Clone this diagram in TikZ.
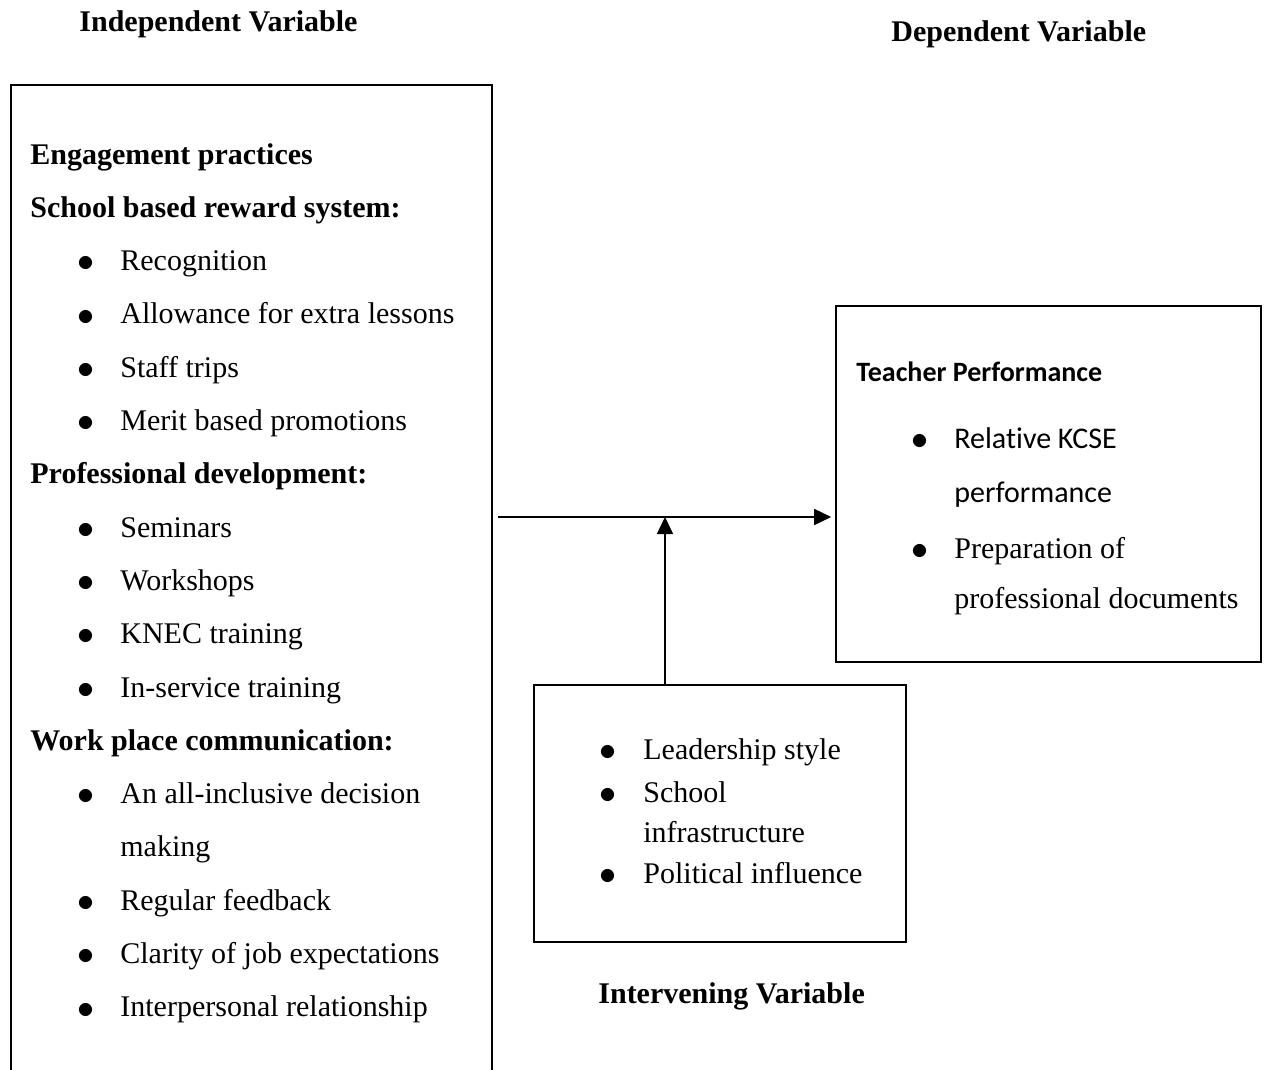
\documentclass[tikz,border=0pt]{standalone}
\usepackage{fontspec}
\setmainfont{Liberation Serif}
\setsansfont{Carlito}[Ligatures=NoCommon]
\usetikzlibrary{arrows.meta,positioning}
\newcommand{\hd}[1]{\textbf{#1}}
\newcommand{\dotb}{\raisebox{-0.6pt}{\scalebox{1.18}{$\bullet$}}}
\newcommand{\lbul}[1]{\makebox[45pt][l]{\hspace*{23.5pt}\dotb}#1}
\newcommand{\lcont}[1]{\hspace*{45pt}#1}
\newcommand{\rbul}[1]{\makebox[49pt][l]{\hspace*{27.5pt}\dotb}#1}
\newcommand{\rcont}[1]{\hspace*{49pt}#1}
\newcommand{\ibul}[1]{\makebox[22pt][l]{\dotb}#1}
\newcommand{\icont}[1]{\hspace*{22pt}#1}

\begin{document}
\begin{tikzpicture}[x=0.5pt,y=-0.5pt,
   txt/.style={anchor=base west,inner sep=0pt,font=\fontsize{15pt}{18pt}\selectfont},
   lab/.style={txt,font=\fontsize{15pt}{18pt}\selectfont\bfseries},
   box/.style={draw,line width=0.8pt,inner sep=0pt},
   arr/.style={line width=0.8pt,-{Triangle[length=8.5pt,width=8pt]}}]
  \useasboundingbox (0,0) rectangle (1264,1070);
  \node[box,minimum width=240.5pt,minimum height=505pt] (indep) at (251.5,590) {};
  \node[box,minimum width=212.5pt,minimum height=178pt] (dep) at (1048.5,484) {};
  \node[box,minimum width=186pt,minimum height=128.5pt] (interv) at (720,813.5) {};
  \node[lab] (ivlab) at (79,32) {Independent Variable};
  \node[lab] (dvlab) at (891,42) {Dependent Variable};
  \node[lab] (invlab) at (598,1003) {Intervening Variable};
  \foreach \txt [count=\i] in {{\hd{Engagement practices}},{\hd{School based reward system:}},
      {\lbul{Recognition}},{\lbul{Allowance for extra lessons}},{\lbul{Staff trips}},
      {\lbul{Merit based promotions}},{\hd{Professional development:}},{\lbul{Seminars}},
      {\lbul{Workshops}},{\lbul{KNEC training}},{\lbul{In-service training}},
      {\hd{Work place communication:}},{\lbul{An all-inclusive decision}},{\lcont{making}},
      {\lbul{Regular feedback}},{\lbul{Clarity of job expectations}},{\lbul{Interpersonal relationship}}}
    \node[txt] (ln\i) at (30,{164+53.3*(\i-1)}) {\txt};
  \node[txt,font=\fontsize{14pt}{17pt}\selectfont\sffamily\bfseries] (dtitle) at (856,381) {Teacher Performance};
  \foreach \y/\txt [count=\i] in {448/{\rbul{\sffamily Relative KCSE}},502/{\rcont{\sffamily performance}},
      558/{\rbul{Preparation of}},608/{\rcont{professional documents}}}
    \node[txt] (dl\i) at (856,\y) {\txt};
  \foreach \y/\txt [count=\i] in {759/{\ibul{Leadership style}},802/{\ibul{School}},
      842/{\icont{infrastructure}},883/{\ibul{Political influence}}}
    \node[txt] (il\i) at (599,\y) {\txt};
  \coordinate (jn) at (665,517);
  \draw[arr] ([xshift=2.5pt]indep.east |- jn) -- ([xshift=-2pt]dep.west |- jn);
  \draw[arr] (interv.north -| jn) -- (jn);
\end{tikzpicture}
\end{document}
